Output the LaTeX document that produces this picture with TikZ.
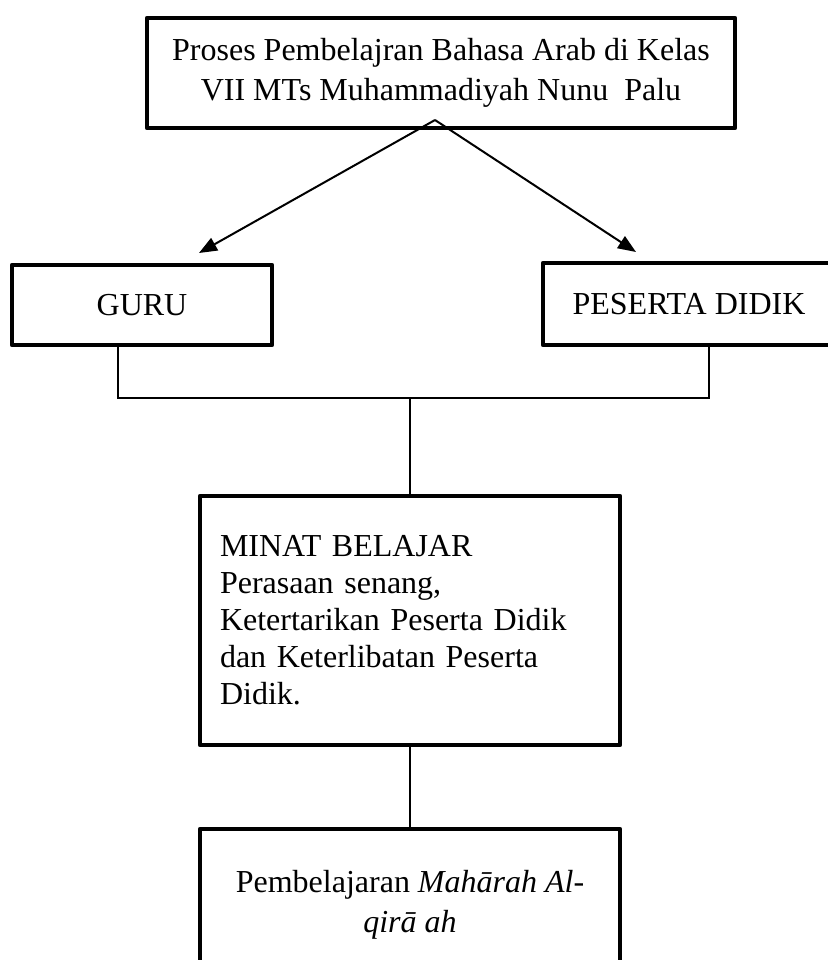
\documentclass[tikz,border=0pt]{standalone}
\usepackage{fontspec}
\setmainfont{Liberation Serif}
\usetikzlibrary{arrows.meta,calc}
\begin{document}
\begin{tikzpicture}[x=0.5pt,y=-0.5pt,
  box/.style={draw,line width=2.4pt,line join=round,rectangle,inner sep=0pt,font=\fontsize{16pt}{20pt}\selectfont},
  conn/.style={line width=0.7pt},
  arr/.style={line width=1pt,-{Triangle[length=9pt,width=7pt]}}]
\useasboundingbox (0,0) rectangle (827,960);
\node[box,minimum width=294pt,minimum height=55pt,align=center] (top) at (441,73)
  {Proses Pembelajran Bahasa Arab di Kelas\\VII MTs Muhammadiyah Nunu~ Palu};
\node[box,minimum width=130pt,minimum height=40pt] (guru) at (142,305) {GURU};
\node[box,minimum width=146pt,minimum height=41pt] (peserta) at (689,304) {PESERTA DIDIK};
\node[box,minimum width=210pt,minimum height=124.5pt,text width=190pt,align=left,
  font=\fontsize{16pt}{18.5pt}\selectfont] (minat) at (410,620.5)
  {MINAT BELAJAR\\Perasaan senang,\\Ketertarikan Peserta Didik\\dan Keterlibatan Peserta\\Didik.};
\node[box,minimum width=210pt,minimum height=76pt,align=center] (bottom) at (410,905)
  {Pembelajaran \textit{Mahārah Al-}\\\textit{qirā ah}};
\coordinate (apex) at (435,120);
\coordinate (la) at (199,253);
\coordinate (ra) at (636,252);
\coordinate (hub) at (410,398);
\draw[arr] (apex) -- (la);
\draw[arr] (apex) -- (ra);
\draw[conn] ([xshift=-12pt]guru.south) |- (hub) -| ([xshift=10pt]peserta.south);
\draw[conn] (hub) -- (minat.north);
\draw[conn] (minat.south) -- (bottom.north);
\end{tikzpicture}
\end{document}
